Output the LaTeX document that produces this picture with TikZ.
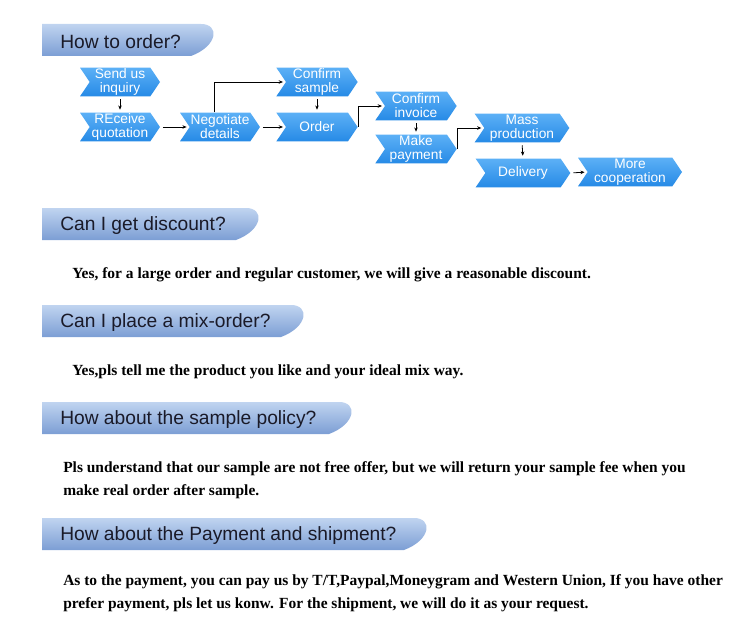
\documentclass[tikz,border=0pt]{standalone}
\usepackage{fontspec}
\setmainfont{Liberation Serif}
\newfontfamily\hdfont{Liberation Sans}
\usetikzlibrary{arrows.meta, shapes.symbols, calc}
\definecolor{hdtop}{RGB}{192,212,240}
\definecolor{hdbot}{RGB}{124,158,212}
\definecolor{chtop}{RGB}{92,176,246}
\definecolor{chbot}{RGB}{38,138,230}
\definecolor{hdtext}{RGB}{26,26,40}

\begin{document}
\begin{tikzpicture}[x=0.75pt, y=-0.75pt, >={Stealth[length=3.2pt, width=2.6pt]},
  chev/.style={signal, signal to=east, signal from=west, signal pointer angle=112,
    top color=chtop, bottom color=chbot, draw=none, text=white, align=center,
    font=\hdfont\fontsize{10.3}{10.5}\selectfont, minimum height=21.5pt, inner sep=0pt},
  flow/.style={->, line width=0.6pt, shorten <=2pt, shorten >=2pt},
  hdtxt/.style={anchor=west, text=hdtext, font=\hdfont\fontsize{14.4}{15}\selectfont, inner sep=0pt},
  bodytxt/.style={anchor=west, align=left, inner sep=0pt, font=\bfseries\fontsize{11.6}{17.2}\selectfont}]
  \useasboundingbox (0,0) rectangle (750,642);
  % section headers
  \foreach \yt/\xr/\txt in {24/215/{How to order?}, 208/260/{Can I get discount?},
      305/305/{Can I place a mix-order?}, 402/353/{How about the sample policy?},
      518/428/{How about the Payment and shipment?}} {
    \shade[top color=hdtop, bottom color=hdbot] (42,\yt) -- (\xr-14,\yt)
      .. controls (\xr+5,\yt) and (\xr+3,\yt+22) .. (\xr-24,\yt+32) -- (42,\yt+32) -- cycle;
    \node[hdtxt] (hd-\yt) at (60,\yt+17.5) {\txt};
  }
  % order flow
  \node[chev, minimum width=60pt] (send) at (120,82) {Send us\\inquiry};
  \node[chev, minimum width=60pt] (recv) at (120,127) {REceive\\quotation};
  \node[chev, minimum width=60pt] (nego) at (220,127) {Negotiate\\details};
  \node[chev, minimum width=61pt] (csamp) at (317,82) {Confirm\\sample};
  \node[chev, minimum width=61pt] (order) at (317,127) {Order};
  \node[chev, minimum width=61pt] (cinv) at (416,106) {Confirm\\invoice};
  \node[chev, minimum width=61pt] (pay) at (416,149) {Make\\payment};
  \node[chev, minimum width=71pt] (mass) at (522,128) {Mass\\production};
  \node[chev, minimum width=71pt] (deliv) at (523,173) {Delivery};
  \node[chev, minimum width=78pt] (more) at (630,172) {More\\cooperation};
  \draw[flow] (send.south) -- (recv.north);
  \draw[flow] (recv.east) -- (nego.west);
  \draw[flow, shorten <=0pt] ($(nego.north)+(-6,0)$) |- (csamp.west);
  \draw[flow] (nego.east) -- (order.west);
  \draw[flow] (csamp.south) -- (order.north);
  \draw[flow, shorten <=0pt] (order.east) |- (cinv.west);
  \draw[flow] (cinv.south) -- (pay.north);
  \draw[flow, shorten <=0pt] (pay.east) |- (mass.west);
  \draw[flow] (mass.south) -- (deliv.north);
  \draw[flow] (deliv.east) -- (more.west);
  % answers
  \node[bodytxt] (ans1) at (72,275) {Yes, for a large order and regular customer, we will give a reasonable discount.};
  \node[bodytxt] (ans2) at (72,372) {Yes,pls tell me the product you like and your ideal mix way.};
  \node[bodytxt] (ans3) at (63,480) {Pls understand that our sample are not free offer, but we will return your sample fee when you\\make real order after sample.};
  \node[bodytxt] (ans4) at (63,593) {As to the payment, you can pay us by T/T,Paypal,Moneygram and Western Union, If you have other\\prefer payment, pls let us konw. For the shipment, we will do it as your request.};
\end{tikzpicture}
\end{document}
